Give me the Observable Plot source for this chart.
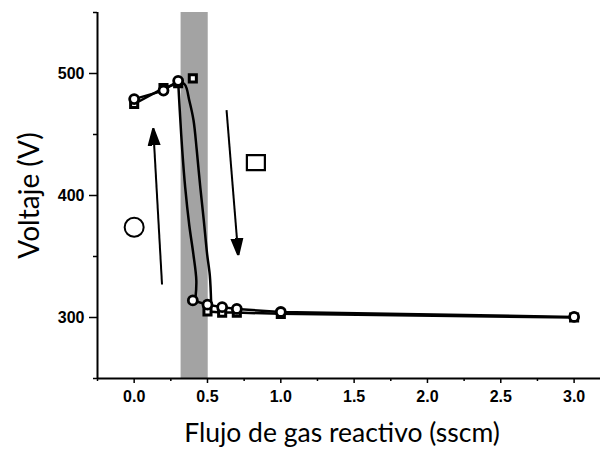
<!DOCTYPE html>
<html>
<head>
<meta charset="utf-8">
<script src="https://cdn.jsdelivr.net/npm/d3@7"></script>
<script src="https://cdn.jsdelivr.net/npm/@observablehq/plot@0.6"></script>
<style>
  html, body { margin: 0; padding: 0; background: #fff; }
  #chart svg { display: block; }
</style>
</head>
<body>
<div id="chart"></div>
<script>
// Discharge voltage vs reactive gas flow: hysteresis loop
const flowCircle = [0, 0.2, 0.3, 0.4, 0.5, 0.6, 0.7, 1.0, 3.0];
const voltCircle = [479, 486, 494, 314, 310.5, 308.5, 307, 304.5, 300.5];

const flowSquare = [0, 0.2, 0.3, 0.5, 0.6, 0.7, 1.0, 3.0];
const voltSquare = [475, 488, 492, 305, 304, 304, 303, 300];

// square measured at 0.4 sccm, off the fitted curve
const flowSquareLone = [0.4];
const voltSquareLone = [496];

// fitted transition curves (metallic -> poisoned)
const fitCircleFlow = [0.300, 0.311, 0.328, 0.348, 0.376, 0.403, 0.424, 0.418];
const fitCircleVolt = [494, 469.7, 436.9, 406.6, 375.4, 352.5, 330.3, 316];
const fitSquareFlow = [0.300, 0.345, 0.376, 0.405, 0.427, 0.451, 0.475, 0.497, 0.516, 0.525];
const fitSquareVolt = [493, 491, 477.9, 461.5, 436.9, 406.6, 379.5, 352.5, 334.4, 312];

// shaded transition zone
const bandFrom = [0.32];
const bandTo = [0.505];

// direction arrows (start -> end)
const arrowX1 = [0.19, 0.63];
const arrowY1 = [327, 470];
const arrowX2 = [0.13, 0.71];
const arrowY2 = [455, 351];

// in-plot keys for the two sweeps
const keyCircleX = [0.0], keyCircleY = [374];
const keySquareX = [0.83], keySquareY = [427];

const yMajor = [300, 400, 500];
const yMinor = [250, 350, 450, 550];
const xMajor = [0, 0.5, 1.0, 1.5, 2.0, 2.5, 3.0];
const xMinor = [-0.25, 0.25, 0.75, 1.25, 1.75, 2.25, 2.75];

const xLabel = "Flujo de gas reactivo (sscm)";
const yLabel = "Voltaje (V)";

const pts = (xs, ys) => xs.map((x, i) => ({x, y: ys[i]}));
const circles = pts(flowCircle, voltCircle);
const squares = pts(flowSquare, voltSquare);
const squaresLone = pts(flowSquareLone, voltSquareLone);
const fitCircle = pts(fitCircleFlow, fitCircleVolt);
const fitSquare = pts(fitSquareFlow, fitSquareVolt);
const arrows = arrowX1.map((x1, i) => ({x1, y1: arrowY1[i], x2: arrowX2[i], y2: arrowY2[i]}));
const band = bandFrom.map((x1, i) => ({x1, x2: bandTo[i]}));

// plateaus on either side of the transition are joined point to point
const circleHigh = circles.filter((d) => d.x <= 0.3);
const circleLow = circles.filter((d) => d.x >= 0.4);
const squareHigh = squares.filter((d) => d.x <= 0.3);
const squareLow = squares.filter((d) => d.x >= 0.5);

// filled triangular arrow head
const filledHead = (color) => {
  const m = d3.create("svg:marker")
    .attr("viewBox", "-17 -8 17 16")
    .attr("markerUnits", "userSpaceOnUse")
    .attr("markerWidth", 17)
    .attr("markerHeight", 16)
    .attr("refX", 0)
    .attr("refY", 0)
    .attr("orient", "auto");
  m.append("path").attr("d", "M0,0L-17,-5.5L-17,5.5Z").attr("fill", color);
  return m.node();
};

// open rectangle symbol for the square key
const rectSymbol = {
  draw(ctx) {
    const w = 18, h = 15;
    ctx.rect(-w / 2, -h / 2, w, h);
  }
};

const tickFont = {fontSize: 16, fontWeight: "bold", fontFamily: "Liberation Sans, Arial, sans-serif"};
const lineStyle = {x: "x", y: "y", stroke: "#000", strokeWidth: 2.5};

const chart = Plot.plot({
  width: 600,
  height: 459,
  marginLeft: 97,
  marginRight: 0,
  marginTop: 12,
  marginBottom: 81,
  x: {domain: [-0.25, 3.18]},
  y: {domain: [250, 550]},
  style: {background: "#fff", color: "#000"},
  marks: [
    Plot.rect(band, {x1: "x1", x2: "x2", y1: 250, y2: 550, fill: "#a3a3a3"}),
    Plot.ruleX([-0.25], {stroke: "#000", strokeWidth: 2}),
    Plot.ruleY([250], {stroke: "#000", strokeWidth: 2}),
    Plot.axisY({ticks: yMajor, tickSize: 8, tickPadding: 5, tickFormat: d3.format("d"), strokeWidth: 1.5, label: null, ...tickFont}),
    Plot.axisY({ticks: yMinor, tickSize: 4, text: null, strokeWidth: 1.5, label: null}),
    Plot.axisX({ticks: xMajor, tickSize: 5, tickPadding: 7, tickFormat: d3.format(".1f"), strokeWidth: 1.5, label: null, ...tickFont}),
    Plot.axisX({ticks: xMinor, tickSize: 3, text: null, strokeWidth: 1.5, label: null}),
    Plot.text([xLabel], {frameAnchor: "bottom", dx: -7, dy: 63, fill: "#000", fontSize: 26.5, fontFamily: "Lato, sans-serif"}),
    Plot.text([yLabel], {frameAnchor: "left", textAnchor: "middle", rotate: -90, dx: -67, fill: "#000", fontSize: 28, fontFamily: "Lato, sans-serif"}),
    Plot.link(arrows, {x1: "x1", y1: "y1", x2: "x2", y2: "y2", stroke: "#000", strokeWidth: 2, markerEnd: filledHead}),
    Plot.dot(pts(keyCircleX, keyCircleY), {x: "x", y: "y", r: 9.5, stroke: "#000", strokeWidth: 2, fill: "none"}),
    Plot.dot(pts(keySquareX, keySquareY), {x: "x", y: "y", r: 9, symbol: rectSymbol, stroke: "#000", strokeWidth: 2.2, fill: "none"}),
    Plot.line(squareHigh, lineStyle),
    Plot.line(squareLow, lineStyle),
    Plot.line(fitSquare, {...lineStyle, curve: "catmull-rom"}),
    Plot.line(circleHigh, lineStyle),
    Plot.line(circleLow, lineStyle),
    Plot.line(fitCircle, {...lineStyle, curve: "catmull-rom"}),
    Plot.dot(squares, {x: "x", y: "y", symbol: "square", r: 4, fill: "#fff", stroke: "#000", strokeWidth: 3}),
    Plot.dot(squaresLone, {x: "x", y: "y", symbol: "square", r: 4, fill: "#fff", stroke: "#000", strokeWidth: 3}),
    Plot.dot(circles, {x: "x", y: "y", r: 4.5, fill: "#fff", stroke: "#000", strokeWidth: 2.8})
  ]
});

document.getElementById("chart").appendChild(chart);
</script>
</body>
</html>
